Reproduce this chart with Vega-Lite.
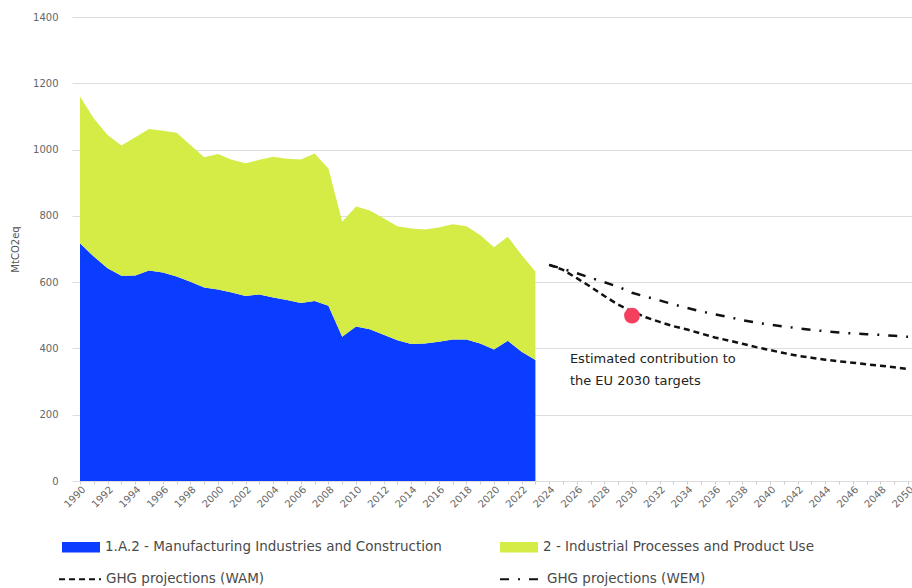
{
  "$schema": "https://vega.github.io/schema/vega-lite/v6.json",
  "autosize": {"type": "none"},
  "padding": {"left": 72, "top": 17, "right": 0, "bottom": 107},
  "width": 840,
  "height": 464,
  "config": {
    "font": "DejaVu Sans",
    "view": {"stroke": null},
    "legend": {"padding": 0},
    "axisX": {"labelOverlap": false}
  },
  "resolve": {"axis": {"x": "independent"}},
  "datasets": {
    "hist": [
      {"year": 1990, "sector": "1.A.2 - Manufacturing Industries and Construction", "value": 717},
      {"year": 1991, "sector": "1.A.2 - Manufacturing Industries and Construction", "value": 677},
      {"year": 1992, "sector": "1.A.2 - Manufacturing Industries and Construction", "value": 642},
      {"year": 1993, "sector": "1.A.2 - Manufacturing Industries and Construction", "value": 619},
      {"year": 1994, "sector": "1.A.2 - Manufacturing Industries and Construction", "value": 620},
      {"year": 1995, "sector": "1.A.2 - Manufacturing Industries and Construction", "value": 635},
      {"year": 1996, "sector": "1.A.2 - Manufacturing Industries and Construction", "value": 629},
      {"year": 1997, "sector": "1.A.2 - Manufacturing Industries and Construction", "value": 617},
      {"year": 1998, "sector": "1.A.2 - Manufacturing Industries and Construction", "value": 601},
      {"year": 1999, "sector": "1.A.2 - Manufacturing Industries and Construction", "value": 584},
      {"year": 2000, "sector": "1.A.2 - Manufacturing Industries and Construction", "value": 578},
      {"year": 2001, "sector": "1.A.2 - Manufacturing Industries and Construction", "value": 569},
      {"year": 2002, "sector": "1.A.2 - Manufacturing Industries and Construction", "value": 558},
      {"year": 2003, "sector": "1.A.2 - Manufacturing Industries and Construction", "value": 563},
      {"year": 2004, "sector": "1.A.2 - Manufacturing Industries and Construction", "value": 554},
      {"year": 2005, "sector": "1.A.2 - Manufacturing Industries and Construction", "value": 546},
      {"year": 2006, "sector": "1.A.2 - Manufacturing Industries and Construction", "value": 537},
      {"year": 2007, "sector": "1.A.2 - Manufacturing Industries and Construction", "value": 543},
      {"year": 2008, "sector": "1.A.2 - Manufacturing Industries and Construction", "value": 529},
      {"year": 2009, "sector": "1.A.2 - Manufacturing Industries and Construction", "value": 435},
      {"year": 2010, "sector": "1.A.2 - Manufacturing Industries and Construction", "value": 466},
      {"year": 2011, "sector": "1.A.2 - Manufacturing Industries and Construction", "value": 458},
      {"year": 2012, "sector": "1.A.2 - Manufacturing Industries and Construction", "value": 441},
      {"year": 2013, "sector": "1.A.2 - Manufacturing Industries and Construction", "value": 425},
      {"year": 2014, "sector": "1.A.2 - Manufacturing Industries and Construction", "value": 413},
      {"year": 2015, "sector": "1.A.2 - Manufacturing Industries and Construction", "value": 415},
      {"year": 2016, "sector": "1.A.2 - Manufacturing Industries and Construction", "value": 420},
      {"year": 2017, "sector": "1.A.2 - Manufacturing Industries and Construction", "value": 427},
      {"year": 2018, "sector": "1.A.2 - Manufacturing Industries and Construction", "value": 427},
      {"year": 2019, "sector": "1.A.2 - Manufacturing Industries and Construction", "value": 415},
      {"year": 2020, "sector": "1.A.2 - Manufacturing Industries and Construction", "value": 397},
      {"year": 2021, "sector": "1.A.2 - Manufacturing Industries and Construction", "value": 423},
      {"year": 2022, "sector": "1.A.2 - Manufacturing Industries and Construction", "value": 390},
      {"year": 2023, "sector": "1.A.2 - Manufacturing Industries and Construction", "value": 365},
      {"year": 1990, "sector": "2 - Industrial Processes and Product Use", "value": 443},
      {"year": 1991, "sector": "2 - Industrial Processes and Product Use", "value": 417},
      {"year": 1992, "sector": "2 - Industrial Processes and Product Use", "value": 402},
      {"year": 1993, "sector": "2 - Industrial Processes and Product Use", "value": 393},
      {"year": 1994, "sector": "2 - Industrial Processes and Product Use", "value": 417},
      {"year": 1995, "sector": "2 - Industrial Processes and Product Use", "value": 427},
      {"year": 1996, "sector": "2 - Industrial Processes and Product Use", "value": 428},
      {"year": 1997, "sector": "2 - Industrial Processes and Product Use", "value": 434},
      {"year": 1998, "sector": "2 - Industrial Processes and Product Use", "value": 413},
      {"year": 1999, "sector": "2 - Industrial Processes and Product Use", "value": 393},
      {"year": 2000, "sector": "2 - Industrial Processes and Product Use", "value": 409},
      {"year": 2001, "sector": "2 - Industrial Processes and Product Use", "value": 400},
      {"year": 2002, "sector": "2 - Industrial Processes and Product Use", "value": 401},
      {"year": 2003, "sector": "2 - Industrial Processes and Product Use", "value": 406},
      {"year": 2004, "sector": "2 - Industrial Processes and Product Use", "value": 424},
      {"year": 2005, "sector": "2 - Industrial Processes and Product Use", "value": 426},
      {"year": 2006, "sector": "2 - Industrial Processes and Product Use", "value": 433},
      {"year": 2007, "sector": "2 - Industrial Processes and Product Use", "value": 445},
      {"year": 2008, "sector": "2 - Industrial Processes and Product Use", "value": 414},
      {"year": 2009, "sector": "2 - Industrial Processes and Product Use", "value": 347},
      {"year": 2010, "sector": "2 - Industrial Processes and Product Use", "value": 362},
      {"year": 2011, "sector": "2 - Industrial Processes and Product Use", "value": 358},
      {"year": 2012, "sector": "2 - Industrial Processes and Product Use", "value": 352},
      {"year": 2013, "sector": "2 - Industrial Processes and Product Use", "value": 344},
      {"year": 2014, "sector": "2 - Industrial Processes and Product Use", "value": 349},
      {"year": 2015, "sector": "2 - Industrial Processes and Product Use", "value": 344},
      {"year": 2016, "sector": "2 - Industrial Processes and Product Use", "value": 345},
      {"year": 2017, "sector": "2 - Industrial Processes and Product Use", "value": 348},
      {"year": 2018, "sector": "2 - Industrial Processes and Product Use", "value": 342},
      {"year": 2019, "sector": "2 - Industrial Processes and Product Use", "value": 327},
      {"year": 2020, "sector": "2 - Industrial Processes and Product Use", "value": 308},
      {"year": 2021, "sector": "2 - Industrial Processes and Product Use", "value": 314},
      {"year": 2022, "sector": "2 - Industrial Processes and Product Use", "value": 292},
      {"year": 2023, "sector": "2 - Industrial Processes and Product Use", "value": 267}
    ],
    "proj": [
      {"year": 2024, "scenario": "GHG projections (WAM)", "value": 652},
      {"year": 2025, "scenario": "GHG projections (WAM)", "value": 637},
      {"year": 2026, "scenario": "GHG projections (WAM)", "value": 612},
      {"year": 2027, "scenario": "GHG projections (WAM)", "value": 586},
      {"year": 2028, "scenario": "GHG projections (WAM)", "value": 558},
      {"year": 2029, "scenario": "GHG projections (WAM)", "value": 532},
      {"year": 2030, "scenario": "GHG projections (WAM)", "value": 512},
      {"year": 2031, "scenario": "GHG projections (WAM)", "value": 494},
      {"year": 2032, "scenario": "GHG projections (WAM)", "value": 480},
      {"year": 2033, "scenario": "GHG projections (WAM)", "value": 467},
      {"year": 2034, "scenario": "GHG projections (WAM)", "value": 457},
      {"year": 2035, "scenario": "GHG projections (WAM)", "value": 445},
      {"year": 2036, "scenario": "GHG projections (WAM)", "value": 433},
      {"year": 2037, "scenario": "GHG projections (WAM)", "value": 424},
      {"year": 2038, "scenario": "GHG projections (WAM)", "value": 414},
      {"year": 2039, "scenario": "GHG projections (WAM)", "value": 404},
      {"year": 2040, "scenario": "GHG projections (WAM)", "value": 395},
      {"year": 2041, "scenario": "GHG projections (WAM)", "value": 386},
      {"year": 2042, "scenario": "GHG projections (WAM)", "value": 378},
      {"year": 2043, "scenario": "GHG projections (WAM)", "value": 372},
      {"year": 2044, "scenario": "GHG projections (WAM)", "value": 366},
      {"year": 2045, "scenario": "GHG projections (WAM)", "value": 361},
      {"year": 2046, "scenario": "GHG projections (WAM)", "value": 357},
      {"year": 2047, "scenario": "GHG projections (WAM)", "value": 352},
      {"year": 2048, "scenario": "GHG projections (WAM)", "value": 348},
      {"year": 2049, "scenario": "GHG projections (WAM)", "value": 343},
      {"year": 2050, "scenario": "GHG projections (WAM)", "value": 338},
      {"year": 2024, "scenario": "GHG projections (WEM)", "value": 652},
      {"year": 2025, "scenario": "GHG projections (WEM)", "value": 640},
      {"year": 2026, "scenario": "GHG projections (WEM)", "value": 627},
      {"year": 2027, "scenario": "GHG projections (WEM)", "value": 613},
      {"year": 2028, "scenario": "GHG projections (WEM)", "value": 600},
      {"year": 2029, "scenario": "GHG projections (WEM)", "value": 586},
      {"year": 2030, "scenario": "GHG projections (WEM)", "value": 568},
      {"year": 2031, "scenario": "GHG projections (WEM)", "value": 556},
      {"year": 2032, "scenario": "GHG projections (WEM)", "value": 545},
      {"year": 2033, "scenario": "GHG projections (WEM)", "value": 533},
      {"year": 2034, "scenario": "GHG projections (WEM)", "value": 522},
      {"year": 2035, "scenario": "GHG projections (WEM)", "value": 512},
      {"year": 2036, "scenario": "GHG projections (WEM)", "value": 503},
      {"year": 2037, "scenario": "GHG projections (WEM)", "value": 495},
      {"year": 2038, "scenario": "GHG projections (WEM)", "value": 485},
      {"year": 2039, "scenario": "GHG projections (WEM)", "value": 478},
      {"year": 2040, "scenario": "GHG projections (WEM)", "value": 472},
      {"year": 2041, "scenario": "GHG projections (WEM)", "value": 466},
      {"year": 2042, "scenario": "GHG projections (WEM)", "value": 461},
      {"year": 2043, "scenario": "GHG projections (WEM)", "value": 456},
      {"year": 2044, "scenario": "GHG projections (WEM)", "value": 452},
      {"year": 2045, "scenario": "GHG projections (WEM)", "value": 448},
      {"year": 2046, "scenario": "GHG projections (WEM)", "value": 445},
      {"year": 2047, "scenario": "GHG projections (WEM)", "value": 443},
      {"year": 2048, "scenario": "GHG projections (WEM)", "value": 441},
      {"year": 2049, "scenario": "GHG projections (WEM)", "value": 438},
      {"year": 2050, "scenario": "GHG projections (WEM)", "value": 435}
    ],
    "target": [
      {"year": 2030, "value": 499}
    ],
    "note": [
      {"year": 2025.5, "value": 386, "label": "Estimated contribution to\nthe EU 2030 targets"}
    ]
  },
  "layer": [
    {
      "data": {"name": "hist"},
      "mark": {"type": "area", "opacity": 1},
      "encoding": {
        "x": {
          "field": "year", "type": "quantitative",
          "scale": {"domain": [1989.42, 2050.29], "nice": false, "zero": false},
          "axis": {
            "title": null,
            "orient": "bottom",
            "values": [1990,1992,1994,1996,1998,2000,2002,2004,2006,2008,2010,2012,2014,2016,2018,2020,2022,2024,2026,2028,2030,2032,2034,2036,2038,2040,2042,2044,2046,2048,2050],
            "format": "d",
            "labelAngle": -45,
            "labelFontSize": 10,
            "labelColor": "#666666",
            "labelPadding": 3,
            "labelOverlap": false,
            "labelFlush": false,
            "labelSeparation": 0,
            "domain": false,
            "ticks": false,
            "grid": false
          }
        },
        "y": {
          "field": "value", "type": "quantitative", "stack": "zero",
          "scale": {"domain": [0, 1400], "nice": false},
          "axis": {
            "title": "MtCO2eq",
            "titleFontSize": 10,
            "titleFontWeight": "normal",
            "titleColor": "#555555",
            "titlePadding": 12,
            "values": [0, 200, 400, 600, 800, 1000, 1200, 1400],
            "format": "d",
            "labelFontSize": 10,
            "labelColor": "#666666",
            "labelPadding": 14,
            "domain": false,
            "ticks": false,
            "grid": true,
            "gridColor": "#dddddd",
            "gridWidth": 1
          }
        },
        "color": {
          "field": "sector", "type": "nominal",
          "scale": {
            "domain": ["1.A.2 - Manufacturing Industries and Construction", "2 - Industrial Processes and Product Use"],
            "range": ["#0a3dff", "#d4ec45"]
          },
          "legend": {
            "title": null,
            "orient": "none",
            "legendX": -10,
            "legendY": 511,
            "direction": "horizontal",
            "columns": 2,
            "columnPadding": 58,
            "symbolType": "M-1,-0.27L1,-0.27L1,0.27L-1,0.27Z",
            "symbolSize": 1444,
            "symbolStrokeWidth": 0,
            "symbolOpacity": 1,
            "labelFontSize": 13.5,
            "labelColor": "#4a4a4a",
            "labelOffset": 5,
            "labelLimit": 500
          }
        },
        "order": {"field": "sector", "sort": "ascending"}
      }
    },
    {
      "data": {"name": "proj"},
      "mark": {"type": "line", "color": "#111111", "strokeWidth": 2.5},
      "encoding": {
        "x": {
          "field": "year", "type": "quantitative",
          "axis": {
            "title": null,
            "orient": "bottom",
            "values": [1990,1991,1992,1993,1994,1995,1996,1997,1998,1999,2000,2001,2002,2003,2004,2005,2006,2007,2008,2009,2010,2011,2012,2013,2014,2015,2016,2017,2018,2019,2020,2021,2022,2023,2024,2025,2026,2027,2028,2029,2030,2031,2032,2033,2034,2035,2036,2037,2038,2039,2040,2041,2042,2043,2044,2045,2046,2047,2048,2049,2050],
            "labels": false,
            "domain": false,
            "ticks": true,
            "tickSize": 3,
            "tickColor": "#cccccc",
            "grid": false
          }
        },
        "y": {"field": "value", "type": "quantitative"},
        "strokeDash": {
          "field": "scenario", "type": "nominal",
          "scale": {
            "domain": ["GHG projections (WAM)", "GHG projections (WEM)"],
            "range": [[6, 4], [9, 9, 2, 9]]
          },
          "legend": {
            "title": null,
            "orient": "none",
            "legendX": -14,
            "legendY": 540,
            "direction": "horizontal",
            "columns": 2,
            "columnPadding": 231,
            "symbolType": "stroke",
            "symbolSize": 1760,
            "symbolStrokeColor": "#111111",
            "symbolStrokeWidth": 2,
            "labelFontSize": 13.5,
            "labelColor": "#4a4a4a",
            "labelOffset": 4,
            "labelLimit": 500
          }
        }
      }
    },
    {
      "data": {"name": "target"},
      "mark": {"type": "point", "filled": true, "color": "#f2405e", "size": 250, "opacity": 1},
      "encoding": {
        "x": {"field": "year", "type": "quantitative", "axis": null},
        "y": {"field": "value", "type": "quantitative"}
      }
    },
    {
      "data": {"name": "note"},
      "mark": {"type": "text", "align": "left", "baseline": "top", "fontSize": 13, "color": "#222222", "lineBreak": "\n", "lineHeight": 22},
      "encoding": {
        "x": {"field": "year", "type": "quantitative", "axis": null},
        "y": {"field": "value", "type": "quantitative"},
        "text": {"field": "label"}
      }
    }
  ]
}
